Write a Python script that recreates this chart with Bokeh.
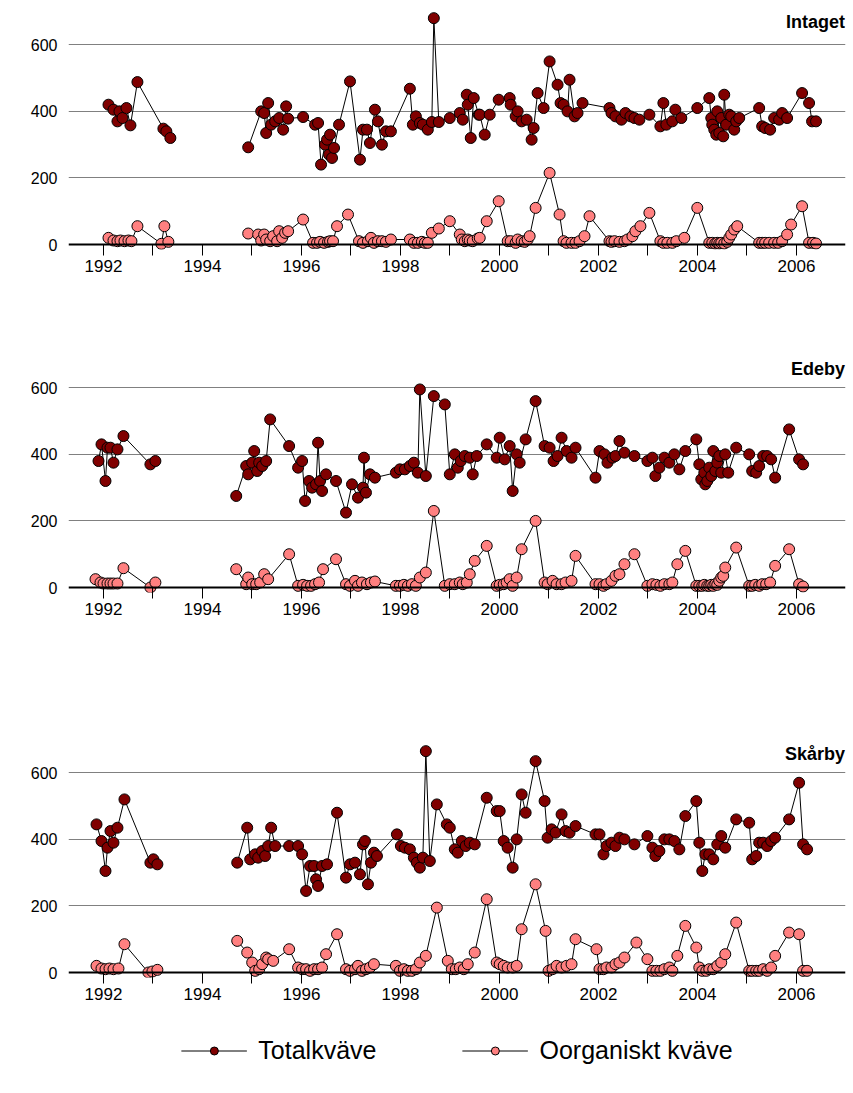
import numpy as np
from bokeh.plotting import figure
from bokeh.layouts import column
from bokeh.models import FixedTicker, Legend, LegendItem, Label, Span
from bokeh.embed import file_html
from bokeh.resources import INLINE

# sampling dates read off the picture as horizontal pixel positions
# (1992 tick at px 103, 49.6 px per year)
def px_to_year(px):
    return [1992 + (p - 103) / 49.6 for p in px]

stations = ["Intaget", "Edeby", "Skårby"]

intaget_tot_px = [108, 113, 117, 119, 122, 126, 130, 137, 163, 166, 170,
    248, 261, 264, 266, 268, 271, 275, 279, 283, 286, 288, 303, 315, 318, 321, 325, 327, 329, 330, 332, 334, 339, 350, 360, 363, 367, 370, 375, 378, 382, 386, 391, 410, 413, 416, 420, 423, 428, 432, 434, 439, 450, 460, 463, 467, 468, 471, 474, 479, 480, 485, 490, 499, 510, 511, 516, 518, 522, 527, 532, 534, 538, 544, 550, 558, 561, 564, 568, 570, 575, 578, 583, 610, 612, 616, 622, 626, 631, 635, 640, 650, 661, 664, 667, 673, 676, 682, 698, 710, 712, 713, 715, 717, 718, 720, 722, 724, 725, 727, 730, 732, 735, 737, 740, 760, 763, 766, 771, 775, 780, 783, 788, 803, 810, 813, 817]
intaget_tot = [420, 405, 370, 400, 380, 410, 358, 488, 348, 340, 320,
    292, 400, 395, 335, 425, 360, 370, 380, 345, 415, 378, 383, 360, 365, 240, 300, 315, 270, 330, 260, 290, 360, 490, 255, 345, 345, 305, 405, 370, 300, 340, 340, 468, 360, 385, 365, 360, 345, 368, 680, 368, 380, 395, 375, 450, 420, 320, 440, 390, 390, 330, 390, 435, 440, 420, 385, 400, 370, 375, 315, 350, 455, 410, 550, 480, 425, 420, 400, 495, 385, 395, 425, 410, 395, 385, 375, 395, 385, 380, 375, 390, 355, 425, 360, 370, 405, 380, 410, 440, 380, 360, 345, 330, 400, 335, 380, 325, 450, 360, 390, 385, 345, 370, 380, 410, 355, 350, 345, 380, 375, 395, 380, 455, 425, 370, 370]
intaget_org_px = [108, 113, 117, 120, 124, 128, 131, 137, 161, 164, 168,
    248, 258, 261, 264, 266, 270, 273, 277, 279, 282, 285, 288, 303, 313, 317, 320, 324, 328, 330, 333, 337, 348, 359, 363, 368, 371, 374, 378, 382, 386, 391, 410, 414, 418, 422, 425, 428, 432, 439, 450, 460, 462, 465, 468, 470, 473, 478, 480, 487, 499, 508, 511, 516, 518, 522, 525, 528, 530, 536, 550, 560, 564, 567, 572, 576, 580, 585, 590, 610, 612, 615, 620, 625, 628, 633, 636, 641, 650, 661, 664, 668, 673, 677, 685, 698, 710, 713, 716, 718, 720, 722, 725, 728, 730, 732, 735, 738, 760, 763, 766, 770, 775, 779, 783, 788, 792, 803, 810, 814, 817]
intaget_org = [20, 12, 10, 12, 10, 12, 10, 55, 2, 55, 8,
    33, 30, 12, 30, 15, 10, 25, 10, 40, 20, 35, 40, 75, 5, 5, 8, 5, 8, 10, 10, 55, 90, 10, 5, 10, 20, 5, 10, 10, 8, 15, 15, 5, 5, 8, 5, 5, 35, 48, 70, 30, 15, 10, 15, 12, 10, 18, 20, 70, 130, 10, 10, 5, 15, 10, 8, 15, 25, 110, 215, 90, 10, 5, 5, 5, 10, 25, 85, 10, 8, 10, 8, 10, 15, 25, 40, 55, 95, 10, 5, 5, 5, 10, 20, 110, 5, 5, 3, 5, 3, 5, 3, 8, 20, 30, 45, 55, 5, 5, 5, 5, 5, 5, 10, 30, 60, 115, 5, 5, 3]

edeby_tot_px = [98, 101, 105, 107, 110, 113, 117, 123, 150, 155,
    236, 246, 248, 252, 254, 257, 259, 262, 266, 270, 289, 298, 302, 305, 309, 312, 316, 318, 320, 322, 326, 336, 346, 352, 358, 363, 364, 366, 370, 375, 396, 400, 405, 410, 414, 418, 420, 426, 434, 445, 450, 455, 458, 461, 465, 470, 473, 477, 487, 497, 500, 505, 510, 513, 517, 520, 526, 536, 545, 550, 554, 558, 562, 567, 572, 576, 596, 600, 605, 608, 613, 616, 620, 625, 635, 648, 653, 656, 660, 665, 670, 675, 680, 686, 697, 700, 702, 705, 706, 708, 710, 712, 714, 716, 718, 720, 722, 726, 729, 737, 750, 753, 757, 760, 764, 768, 772, 776, 790, 800, 804]
edeby_tot = [380, 430, 320, 420, 420, 375, 415, 455, 370, 380,
    275, 365, 340, 375, 410, 350, 375, 365, 380, 505, 425, 360, 380, 260, 320, 300, 310, 435, 320, 290, 340, 320, 225, 310, 270, 300, 390, 285, 340, 330, 345, 355, 355, 365, 375, 345, 595, 335, 575, 550, 340, 400, 360, 380, 395, 390, 340, 395, 430, 390, 450, 385, 425, 290, 400, 375, 445, 560, 425, 420, 380, 395, 450, 410, 390, 420, 330, 410, 400, 375, 390, 395, 440, 405, 395, 380, 390, 335, 360, 390, 375, 400, 355, 410, 445, 370, 325, 345, 310, 320, 360, 335, 410, 350, 375, 395, 345, 400, 345, 420, 400, 350, 345, 365, 395, 395, 385, 330, 475, 385, 370]
edeby_org_px = [95, 100, 103, 107, 110, 113, 117, 123, 150, 155,
    236, 246, 248, 252, 256, 260, 264, 268, 289, 298, 303, 307, 311, 315, 319, 323, 336, 346, 350, 355, 358, 362, 367, 371, 375, 396, 400, 404, 408, 412, 416, 420, 426, 434, 445, 450, 455, 460, 463, 467, 470, 475, 487, 497, 500, 504, 507, 510, 513, 517, 522, 536, 545, 548, 553, 557, 562, 566, 572, 576, 596, 600, 604, 607, 612, 616, 620, 625, 635, 648, 653, 657, 661, 665, 670, 673, 678, 686, 697, 700, 703, 705, 708, 710, 712, 714, 716, 718, 720, 722, 724, 726, 737, 750, 753, 756, 760, 763, 767, 771, 776, 790, 800, 804]
edeby_org = [25, 15, 12, 12, 12, 12, 12, 58, 0, 15,
    55, 10, 30, 10, 10, 15, 40, 25, 100, 5, 8, 5, 5, 10, 15, 55, 85, 10, 5, 20, 5, 15, 10, 15, 18, 5, 5, 8, 5, 10, 5, 30, 45, 230, 5, 10, 10, 15, 10, 15, 40, 80, 125, 5, 8, 10, 15, 25, 5, 30, 115, 200, 15, 10, 20, 10, 10, 15, 20, 95, 10, 10, 5, 10, 20, 35, 40, 70, 100, 5, 10, 8, 5, 10, 10, 15, 70, 110, 5, 5, 5, 8, 5, 5, 8, 5, 10, 8, 20, 30, 35, 60, 120, 5, 5, 8, 5, 10, 10, 15, 65, 115, 10, 3]

skarby_tot_px = [96, 101, 105, 107, 110, 113, 117, 124, 150, 153, 157,
    237, 247, 250, 255, 258, 262, 265, 268, 271, 275, 289, 298, 302, 306, 310, 314, 316, 318, 322, 327, 337, 346, 350, 355, 360, 363, 365, 368, 371, 374, 377, 397, 401, 405, 410, 414, 417, 420, 423, 426, 430, 437, 447, 450, 455, 458, 462, 466, 470, 475, 487, 497, 500, 504, 508, 513, 517, 522, 526, 536, 545, 548, 552, 556, 562, 566, 570, 576, 596, 600, 604, 607, 612, 616, 620, 625, 635, 648, 653, 656, 660, 665, 670, 675, 680, 686, 697, 700, 703, 706, 710, 714, 718, 722, 726, 737, 750, 753, 757, 760, 764, 768, 772, 776, 790, 800, 804, 808]
skarby_tot = [445, 395, 305, 375, 425, 390, 435, 520, 330, 340, 325,
    330, 435, 340, 355, 345, 365, 350, 380, 435, 380, 380, 380, 355, 245, 320, 320, 280, 260, 320, 325, 480, 285, 325, 330, 295, 385, 395, 265, 330, 360, 350, 415, 380, 375, 370, 345, 330, 315, 345, 665, 335, 505, 445, 435, 370, 360, 395, 380, 390, 385, 525, 485, 485, 395, 375, 315, 400, 535, 480, 635, 515, 405, 430, 420, 475, 425, 420, 440, 415, 415, 355, 380, 390, 380, 405, 400, 385, 410, 375, 350, 365, 400, 400, 395, 370, 470, 515, 390, 305, 355, 355, 340, 385, 410, 375, 460, 450, 340, 350, 390, 390, 380, 395, 405, 460, 570, 385, 370]
skarby_org_px = [96, 101, 105, 109, 113, 118, 124, 148, 152, 157,
    237, 247, 252, 255, 259, 262, 266, 268, 273, 289, 298, 302, 306, 310, 314, 318, 322, 326, 337, 346, 350, 355, 358, 362, 366, 370, 374, 396, 400, 404, 408, 412, 416, 420, 426, 437, 448, 452, 456, 460, 464, 468, 475, 487, 497, 500, 504, 508, 513, 517, 522, 536, 546, 549, 553, 557, 562, 567, 572, 576, 597, 600, 604, 607, 612, 616, 620, 625, 637, 648, 653, 657, 661, 665, 670, 673, 678, 686, 697, 700, 703, 707, 710, 714, 718, 722, 726, 737, 750, 753, 757, 760, 764, 768, 772, 776, 790, 800, 804, 808]
skarby_org = [20, 12, 10, 12, 10, 12, 85, 0, 3, 8,
    95, 60, 30, 5, 10, 25, 45, 40, 35, 70, 15, 10, 10, 5, 10, 10, 15, 55, 115, 10, 5, 10, 20, 5, 10, 15, 25, 20, 5, 10, 5, 5, 10, 30, 50, 195, 35, 10, 10, 15, 10, 25, 60, 220, 30, 25, 20, 15, 15, 20, 130, 265, 125, 5, 10, 20, 15, 20, 25, 100, 70, 10, 10, 15, 15, 25, 30, 45, 90, 40, 5, 5, 5, 10, 15, 5, 50, 140, 75, 15, 5, 5, 10, 10, 20, 30, 55, 150, 5, 5, 5, 5, 10, 5, 15, 50, 120, 115, 5, 5]

series = [
    (intaget_tot_px, intaget_tot, intaget_org_px, intaget_org),
    (edeby_tot_px, edeby_tot, edeby_org_px, edeby_org),
    (skarby_tot_px, skarby_tot, skarby_org_px, skarby_org),
]
legend_labels = ["Totalkväve", "Oorganiskt kväve"]

tot_color = "#800000"
org_color = "#ff8080"
FONT = "Liberation Sans"


def with_gaps(x, y):
    # break the line where there is more than a year between samples
    xs, ys = [], []
    for i in range(len(x)):
        if i > 0 and x[i] - x[i - 1] > 1:
            xs.append(np.nan)
            ys.append(np.nan)
        xs.append(x[i])
        ys.append(y[i])
    return xs, ys


heights = [351, 385, 274]
tops = [11, 3, 3]
bottoms = [102, 144, 33]
figs = []
for k, name in enumerate(stations):
    tpx, tv, opx, ov = series[k]
    p = figure(width=848, height=heights[k], x_range=(1991.293, 2006.99), y_range=(-15, 700),
               output_backend="svg", toolbar_location=None,
               min_border_left=68, min_border_right=3, min_border_top=tops[k],
               min_border_bottom=bottoms[k])
    p.outline_line_color = None
    p.xgrid.visible = False
    p.ygrid.ticker = FixedTicker(ticks=[200, 400, 600])
    p.ygrid.grid_line_color = "#808080"
    p.yaxis.ticker = FixedTicker(ticks=[0, 200, 400, 600])
    p.yaxis.axis_line_color = None
    p.yaxis.major_tick_line_color = None
    p.yaxis.minor_tick_line_color = None
    p.yaxis.major_label_text_font = FONT
    p.yaxis.major_label_text_font_size = "16px"
    p.yaxis.major_label_text_color = "black"
    years = list(range(1992, 2007))
    p.xaxis.ticker = FixedTicker(ticks=years)
    p.xaxis.major_label_overrides = {y: (str(y) if y % 2 == 0 else "") for y in years}
    p.xaxis.axis_line_color = None
    p.xaxis.major_tick_in = 5
    p.xaxis.major_tick_out = 6
    p.xaxis.minor_tick_line_color = None
    p.xaxis.major_label_text_font = FONT
    p.xaxis.major_label_text_font_size = "17px"
    p.xaxis.major_label_text_color = "black"
    p.xaxis.major_label_standoff = 4
    p.add_layout(Span(location=0, dimension="width", line_color="black", line_width=2))

    tx, ty = with_gaps(px_to_year(tpx), tv)
    ox, oy = with_gaps(px_to_year(opx), ov)
    p.line(tx, ty, line_color="black", line_width=1)
    p.scatter(px_to_year(tpx), tv, size=11, fill_color=tot_color, line_color="black", line_width=1)
    p.line(ox, oy, line_color="black", line_width=1)
    p.scatter(px_to_year(opx), ov, size=11, fill_color=org_color, line_color="black", line_width=1)

    p.add_layout(Label(x=2006.98, y=700, text=name, text_align="right", text_baseline="top",
                       text_font=FONT, text_font_style="bold", text_font_size="18px",
                       text_color="black", y_offset=0 if k == 0 else -4))
    figs.append(p)

# legend in its own strip below the panels
lg = figure(width=848, height=80, x_range=(0, 1), y_range=(0, 1), output_backend="svg",
            toolbar_location=None, min_border=0)
lg.axis.visible = False
lg.grid.visible = False
lg.outline_line_color = None
items = []
for label, col in zip(legend_labels, [tot_color, org_color]):
    r1 = lg.line([-5, -4], [-5, -4], line_color="black", line_width=1)
    r2 = lg.scatter([-5], [-5], size=13, fill_color=col, line_color="black", line_width=1)
    items.append(LegendItem(label=label, renderers=[r1, r2]))
leg = Legend(items=items, orientation="horizontal", location="center", border_line_color=None,
             background_fill_alpha=0, label_text_font=FONT, label_text_font_size="25px",
             label_text_color="black", glyph_width=66, spacing=85, label_standoff=12)
lg.add_layout(leg, "center")

page = column(*figs, lg, spacing=0)
open("out.html", "w").write(file_html(page, INLINE))
